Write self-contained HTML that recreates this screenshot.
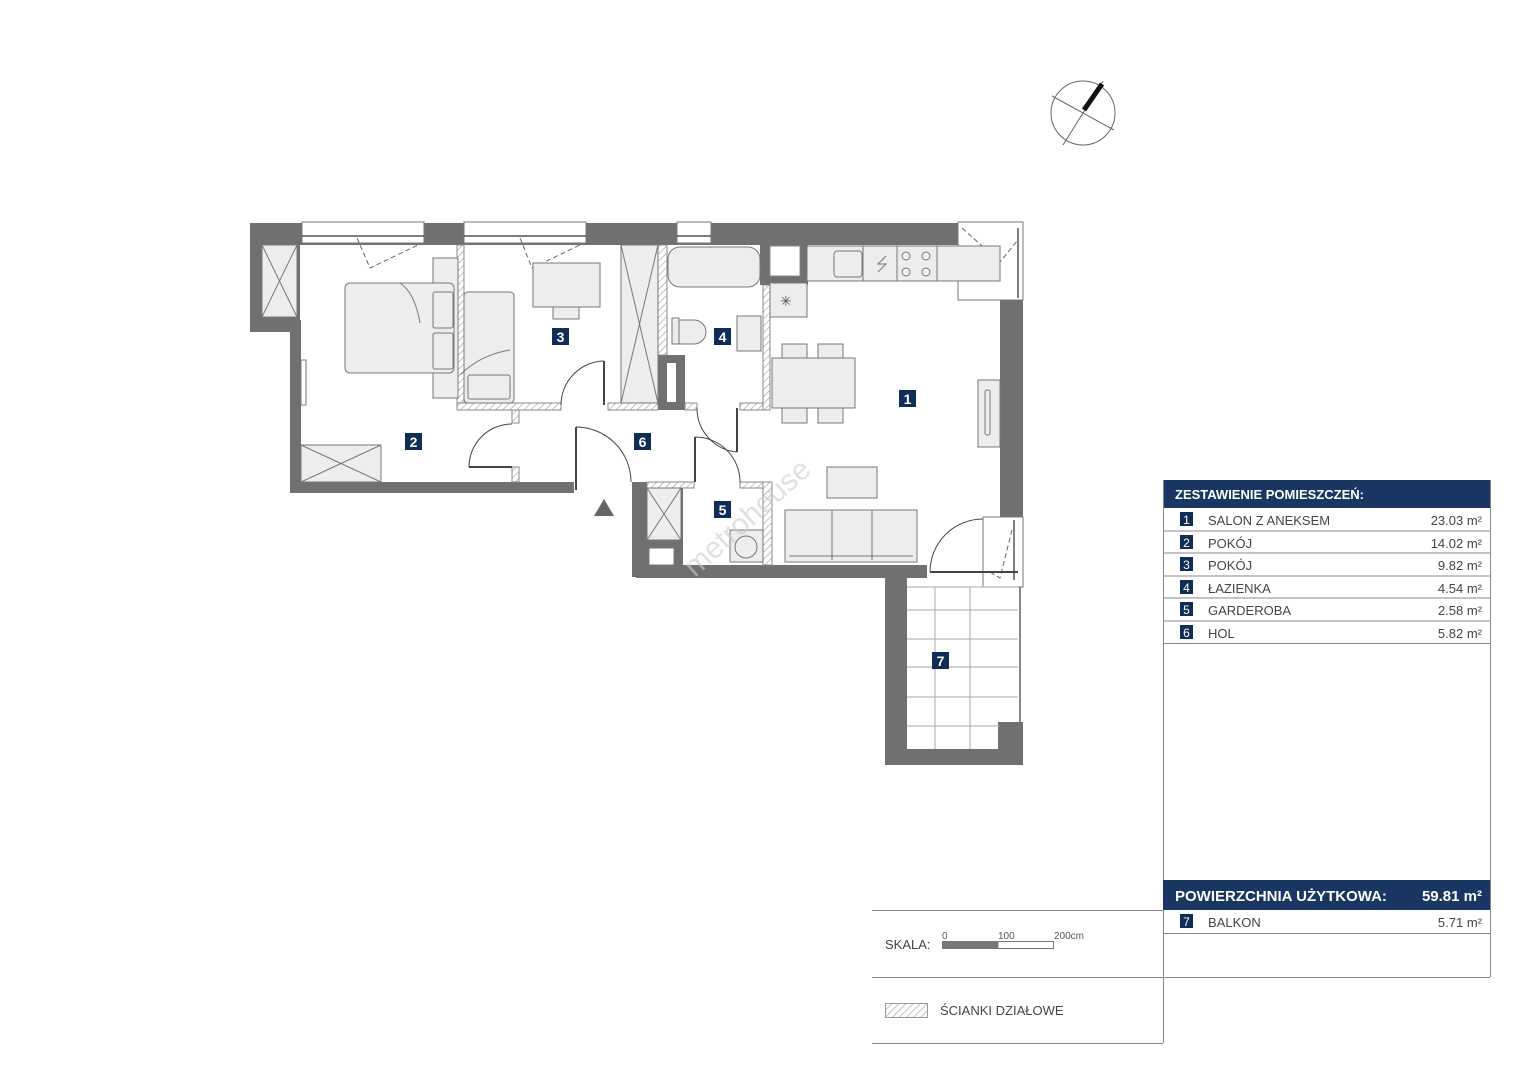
<!DOCTYPE html>
<html><head><meta charset="utf-8"><style>
html,body{margin:0;padding:0;background:#fff}
svg{display:block}
text{font-family:"Liberation Sans",sans-serif}
</style></head><body>
<svg width="1527" height="1080" viewBox="0 0 1527 1080" xmlns="http://www.w3.org/2000/svg">
<defs>
<pattern id="h" width="5" height="5" patternUnits="userSpaceOnUse" patternTransform="rotate(45)">
<rect width="5" height="5" fill="#fff"/><line x1="0" y1="0" x2="0" y2="5" stroke="#999" stroke-width="1.2"/>
</pattern>
</defs>
<g fill="#707070">
<!-- outer walls -->
<rect x="250" y="223" width="773" height="22"/>
<rect x="250" y="223" width="50" height="109"/>
<rect x="290" y="320" width="11" height="173"/>
<rect x="290" y="482" width="284" height="11"/>
<rect x="632" y="482" width="51" height="95"/>
<rect x="636" y="565" width="291" height="13"/>
<rect x="1000" y="300" width="23" height="217"/>
<rect x="885" y="565" width="22" height="200"/>
<rect x="885" y="749" width="138" height="16"/>
<rect x="998" y="722" width="25" height="43"/>
<rect x="760" y="245" width="48" height="40"/>
<rect x="658" y="355" width="27" height="55"/>
</g>
<!-- windows in top wall -->
<g fill="#fff" stroke="#777" stroke-width="1">
<rect x="302" y="222" width="122" height="21"/>
<rect x="464" y="222" width="122" height="21"/>
<rect x="677" y="222" width="34" height="21"/>
<rect x="958" y="222" width="65" height="78"/>
<rect x="983" y="517" width="40" height="70"/>
<rect x="301" y="360" width="5" height="45"/>
</g>
<g stroke="#555" stroke-width="1.5" fill="none">
<line x1="302" y1="236" x2="424" y2="236"/><line x1="464" y1="236" x2="586" y2="236"/><line x1="677" y1="236" x2="711" y2="236"/>
<line x1="1018" y1="228" x2="1018" y2="298"/><line x1="1014" y1="520" x2="1014" y2="580"/>
</g>
<g stroke="#666" stroke-width="1" fill="none" stroke-dasharray="5,3">
<polyline points="357,238 370,268 418,245"/><polyline points="520,238 532,268 580,245"/><polyline points="962,228 1000,262 1018,240"/><polyline points="1012,530 1000,578 990,572"/>
</g>
<!-- inner white areas for niches -->
<rect x="770" y="246" width="30" height="30" fill="#fff" stroke="#888"/>
<rect x="667" y="363" width="9" height="39" fill="#fff"/>
<!-- hatched partitions -->
<g fill="url(#h)" stroke="#888" stroke-width="1">
<rect x="457" y="245" width="7" height="165"/>
<rect x="457" y="403" width="104" height="7"/>
<rect x="608" y="403" width="50" height="7"/>
<rect x="658" y="245" width="9" height="110"/>
<rect x="685" y="403" width="12" height="7"/>
<rect x="740" y="403" width="30" height="7"/>
<rect x="763" y="285" width="7" height="125"/>
<rect x="512" y="410" width="7" height="13"/>
<rect x="512" y="467" width="7" height="15"/>
<rect x="647" y="482" width="47" height="6"/>
<rect x="740" y="482" width="32" height="6"/>
<rect x="763" y="482" width="9" height="83"/>
</g>
<!-- furniture -->
<g fill="#ededed" stroke="#777" stroke-width="1">
<rect x="262" y="245" width="35" height="72"/>
<rect x="301" y="445" width="80" height="37"/>
<rect x="433" y="258" width="25" height="140"/>
<rect x="345" y="283" width="109" height="90" rx="5"/>
<rect x="433" y="292" width="20" height="36" rx="2"/>
<rect x="433" y="333" width="20" height="36" rx="2"/>
<rect x="464" y="292" width="50" height="111" rx="4"/>
<rect x="468" y="375" width="42" height="24" rx="2"/>
<rect x="533" y="263" width="67" height="44"/>
<rect x="553" y="307" width="26" height="12"/>
<rect x="621" y="245" width="37" height="158"/>
<rect x="668" y="247" width="92" height="40" rx="12"/>
<rect x="672" y="318" width="7" height="26"/>
<path d="M679 320 h15 a12 12 0 0 1 0 24 h-15 z"/>
<rect x="737" y="316" width="24" height="35"/>
<rect x="807" y="246" width="193" height="35"/>
<rect x="834" y="251" width="28" height="26" rx="3"/>
<rect x="770" y="283" width="37" height="34"/>
<rect x="782" y="344" width="25" height="14"/><rect x="818" y="344" width="25" height="14"/>
<rect x="782" y="408" width="25" height="15"/><rect x="818" y="408" width="25" height="15"/>
<rect x="772" y="358" width="83" height="50"/>
<rect x="978" y="380" width="22" height="67"/>
<rect x="827" y="467" width="50" height="31"/>
<rect x="785" y="510" width="132" height="52"/>
<rect x="730" y="530" width="33" height="32"/>
<rect x="647" y="488" width="34" height="52"/>
<rect x="649" y="548" width="25" height="17" fill="#fff"/>
</g>
<g stroke="#777" stroke-width="1" fill="none">
<path d="M262 245 L297 317 M297 245 L262 317"/>
<path d="M301 445 L381 482 M381 445 L301 482"/>
<path d="M621 245 L658 403 M658 245 L621 403"/>
<path d="M647 488 L681 540 M681 488 L647 540"/>
<line x1="832" y1="510" x2="832" y2="560"/><line x1="872" y1="510" x2="872" y2="560"/><line x1="789" y1="556" x2="913" y2="556"/>
<line x1="863" y1="246" x2="863" y2="281"/><line x1="897" y1="246" x2="897" y2="281"/><line x1="937" y1="246" x2="937" y2="281"/>
<circle cx="906" cy="256" r="4"/><circle cx="926" cy="256" r="4"/><circle cx="906" cy="272" r="4"/><circle cx="926" cy="272" r="4"/>
<circle cx="746" cy="547" r="11"/>
<rect x="985" y="390" width="5" height="45" rx="2"/>
<path d="M400 283 q15 10 20 40 M460 375 q20-20 50-25"/>
<path d="M878 272 l8-8 -8 0 8-8"/>
<text x="780" y="306" font-size="14" fill="#555" stroke="none">✳</text>
</g>
<!-- balcony grid -->
<g stroke="#aaa" stroke-width="1">
<line x1="935" y1="587" x2="935" y2="749"/><line x1="970" y1="587" x2="970" y2="749"/>
<line x1="907" y1="610" x2="1018" y2="610"/><line x1="907" y1="639" x2="1018" y2="639"/>
<line x1="907" y1="667" x2="1018" y2="667"/><line x1="907" y1="697" x2="1018" y2="697"/>
<line x1="907" y1="726" x2="1000" y2="726"/><line x1="907" y1="587" x2="1018" y2="587"/>
</g>
<line x1="1020" y1="587" x2="1020" y2="722" stroke="#888" stroke-width="2"/>
<!-- doors -->
<g stroke="#444" stroke-width="1" fill="none">
<path d="M561 405 A44 44 0 0 1 604 361"/><line x1="604" y1="361" x2="604" y2="405" stroke-width="2"/>
<path d="M469 467 A43 43 0 0 1 512 424"/><line x1="469" y1="467" x2="512" y2="467" stroke-width="2"/>
<path d="M576 427 A55 55 0 0 1 631 482"/><line x1="576" y1="427" x2="576" y2="490" stroke-width="2"/>
<path d="M697 408 A44 44 0 0 0 737 452"/><line x1="737" y1="408" x2="737" y2="452" stroke-width="2"/>
<path d="M695 437 A45 45 0 0 1 740 482"/><line x1="695" y1="437" x2="695" y2="482" stroke-width="2"/>
<path d="M930 572 A53 53 0 0 1 983 519"/><line x1="930" y1="572" x2="1018" y2="572" stroke-width="2"/>
</g>
<polygon points="604,499 594,516 614,516" fill="#666"/>
<!-- compass -->
<circle cx="1083" cy="113" r="32" fill="none" stroke="#666" stroke-width="1"/>
<line x1="1063" y1="145" x2="1103" y2="81" stroke="#666" stroke-width="1"/>
<line x1="1052" y1="96" x2="1114" y2="130" stroke="#666" stroke-width="1"/>
<line x1="1084" y1="110" x2="1102" y2="84" stroke="#111" stroke-width="5"/>
<!-- watermark -->
<text x="0" y="0" font-size="30" fill="#ccc" fill-opacity="0.6" transform="translate(695,578) rotate(-42)">metrohouse</text>
<!-- room labels -->
<g font-size="14" font-weight="bold" fill="#fff" text-anchor="middle">
<rect x="899" y="390" width="17" height="17" fill="#0f2d57"/><text x="907.5" y="404">1</text>
<rect x="405" y="433" width="17" height="17" fill="#0f2d57"/><text x="413.5" y="447">2</text>
<rect x="552" y="328" width="17" height="17" fill="#0f2d57"/><text x="560.5" y="342">3</text>
<rect x="714" y="328" width="17" height="17" fill="#0f2d57"/><text x="722.5" y="342">4</text>
<rect x="714" y="501" width="17" height="17" fill="#0f2d57"/><text x="722.5" y="515">5</text>
<rect x="634" y="433" width="17" height="17" fill="#0f2d57"/><text x="642.5" y="447">6</text>
<rect x="932" y="652" width="17" height="17" fill="#0f2d57"/><text x="940.5" y="666">7</text>
</g>
<!-- table -->
<rect x="1163" y="480" width="327" height="28" fill="#193762"/>
<text x="1175" y="499" font-size="13" font-weight="bold" fill="#fff">ZESTAWIENIE POMIESZCZEŃ:</text>
<g stroke="#888" stroke-width="1" fill="none">
<line x1="1163.5" y1="480" x2="1163.5" y2="1043"/><line x1="1490.5" y1="480" x2="1490.5" y2="977"/>
<line x1="1163" y1="531" x2="1490" y2="531"/><line x1="1163" y1="553" x2="1490" y2="553"/><line x1="1163" y1="576" x2="1490" y2="576"/>
<line x1="1163" y1="598" x2="1490" y2="598"/><line x1="1163" y1="621" x2="1490" y2="621"/><line x1="1163" y1="643.5" x2="1490" y2="643.5"/>
<line x1="1163" y1="933.5" x2="1490" y2="933.5"/><line x1="1163" y1="977.5" x2="1490" y2="977.5"/>
<line x1="872" y1="910.5" x2="1163" y2="910.5"/><line x1="872" y1="977.5" x2="1163" y2="977.5"/><line x1="872" y1="1043.5" x2="1163" y2="1043.5"/>
</g>
<rect x="1163" y="880" width="327" height="30" fill="#193762"/>
<text x="1175" y="901" font-size="15" font-weight="bold" fill="#fff">POWIERZCHNIA UŻYTKOWA:</text>
<text x="1482" y="901" font-size="15" font-weight="bold" fill="#fff" text-anchor="end">59.81 m²</text>
<g font-size="13" fill="#444">
<g fill="#0f2d57"><rect x="1180" y="512" width="13" height="14"/><rect x="1180" y="535" width="13" height="14"/><rect x="1180" y="557" width="13" height="14"/><rect x="1180" y="580" width="13" height="14"/><rect x="1180" y="602" width="13" height="14"/><rect x="1180" y="625" width="13" height="14"/><rect x="1180" y="914" width="13" height="14"/></g>
<g fill="#fff" font-size="12" text-anchor="middle"><text x="1186.5" y="524">1</text><text x="1186.5" y="547">2</text><text x="1186.5" y="569">3</text><text x="1186.5" y="592">4</text><text x="1186.5" y="614">5</text><text x="1186.5" y="637">6</text><text x="1186.5" y="926">7</text></g>
<text x="1208" y="525">SALON Z ANEKSEM</text><text x="1208" y="548">POKÓJ</text><text x="1208" y="570">POKÓJ</text><text x="1208" y="593">ŁAZIENKA</text><text x="1208" y="615">GARDEROBA</text><text x="1208" y="638">HOL</text><text x="1208" y="927">BALKON</text>
<g text-anchor="end"><text x="1482" y="525">23.03 m²</text><text x="1482" y="548">14.02 m²</text><text x="1482" y="570">9.82 m²</text><text x="1482" y="593">4.54 m²</text><text x="1482" y="615">2.58 m²</text><text x="1482" y="638">5.82 m²</text><text x="1482" y="927">5.71 m²</text></g>
</g>
<!-- scale -->
<text x="885" y="949" font-size="13" fill="#444">SKALA:</text>
<rect x="942.5" y="941.5" width="111" height="7" fill="#fff" stroke="#777"/>
<rect x="942.5" y="941.5" width="56" height="7" fill="#777"/>
<g font-size="10" fill="#555"><text x="942" y="939">0</text><text x="998" y="939">100</text><text x="1054" y="939">200cm</text></g>
<rect x="885.5" y="1003.5" width="42" height="14" fill="url(#h)" stroke="#999"/>
<text x="940" y="1015" font-size="13" fill="#444">ŚCIANKI DZIAŁOWE</text>
</svg>
</body></html>
